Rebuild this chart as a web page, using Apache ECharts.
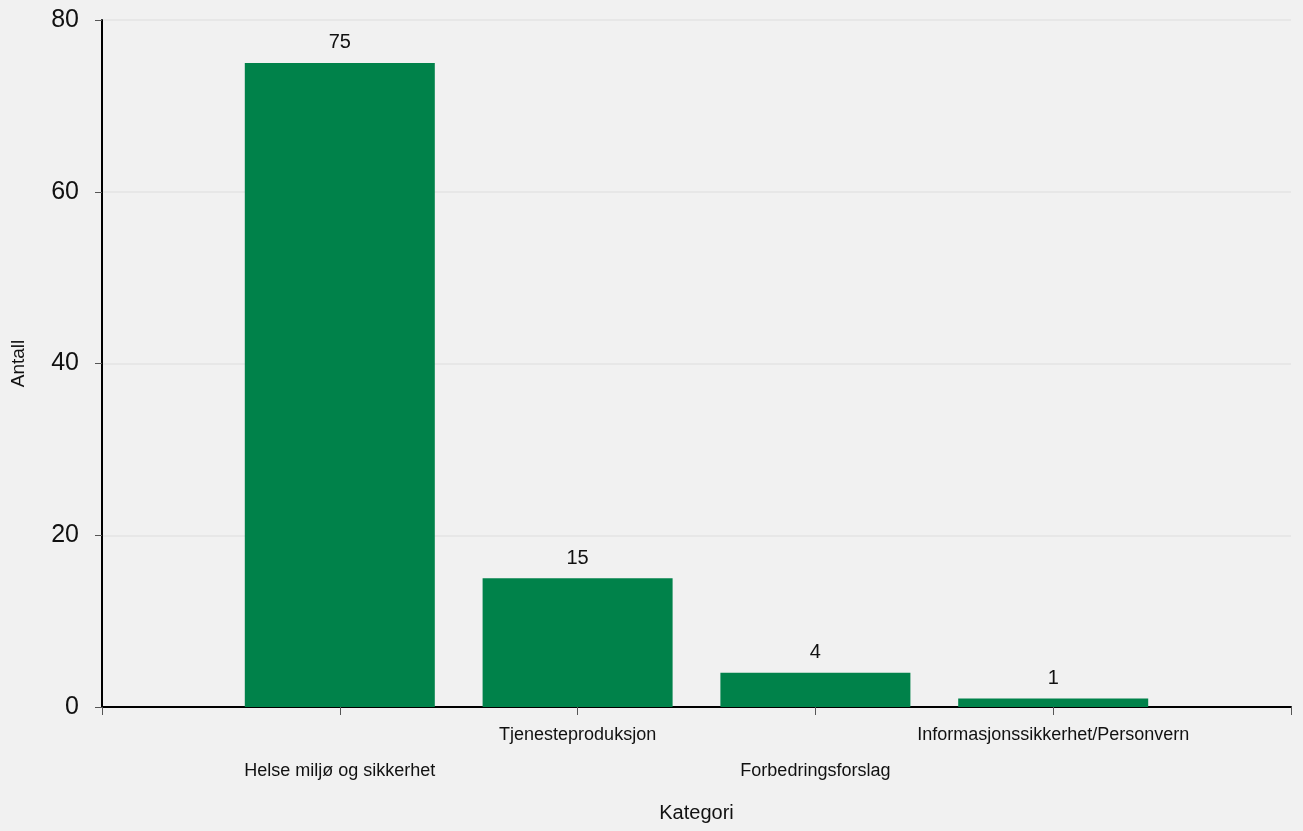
<!DOCTYPE html>
<html><head><meta charset="utf-8">
<script src="https://cdn.jsdelivr.net/npm/echarts@6/dist/echarts.min.js"></script>
<style>html,body{margin:0;padding:0;background:#f1f1f1;}#c{width:1303px;height:831px;}</style>
</head><body><div id="c"></div>
<script>
const categories = ['', 'Helse miljø og sikkerhet', 'Tjenesteproduksjon', 'Forbedringsforslag', 'Informasjonssikkerhet/Personvern', ''];
const values = [null, 75, 15, 4, 1, null];
const yTicks = [0, 20, 40, 60, 80];

const chart = echarts.init(document.getElementById('c'));
chart.setOption({
  backgroundColor: '#f1f1f1',
  textStyle: { fontFamily: 'Liberation Sans, Arial, sans-serif' },
  grid: { left: 102, right: 12, top: 20, bottom: 124 },
  xAxis: {
    type: 'category',
    data: categories,
    boundaryGap: false,
    name: 'Kategori',
    nameLocation: 'middle',
    nameGap: 96,
    nameTextStyle: { color: '#111', fontSize: 20 },
    axisLine: { lineStyle: { color: '#000', width: 2 } },
    axisTick: { interval: 0, length: 8, lineStyle: { color: '#555' } },
    axisLabel: {
      interval: 0,
      color: '#111',
      fontSize: 18,
      margin: 19,
      formatter: function (v, i) { return i % 2 === 1 ? '{lo|' + v + '}' : '{hi|' + v + '}'; },
      rich: {
        hi: { fontSize: 18, color: '#111', padding: [0, 0, 0, 0] },
        lo: { fontSize: 18, color: '#111', padding: [36, 0, 0, 0] }
      }
    },
    splitLine: { show: false }
  },
  yAxis: {
    type: 'value',
    min: yTicks[0],
    max: yTicks[yTicks.length - 1],
    interval: 20,
    name: 'Antall',
    nameLocation: 'middle',
    nameGap: 74,
    nameRotate: 90,
    nameTextStyle: { color: '#111', fontSize: 19 },
    axisLine: { show: true, lineStyle: { color: '#000', width: 2 } },
    axisTick: { show: true, length: 7, lineStyle: { color: '#555' } },
    axisLabel: { color: '#111', fontSize: 25, margin: 23 },
    splitLine: { show: true, lineStyle: { color: '#e3e3e3', width: 1.5 } }
  },
  series: [{
    type: 'bar',
    data: values,
    barWidth: 190,
    itemStyle: { color: '#00824a' },
    label: { show: true, position: 'top', distance: 10, color: '#111', fontSize: 20 }
  }]
});
</script></body></html>
